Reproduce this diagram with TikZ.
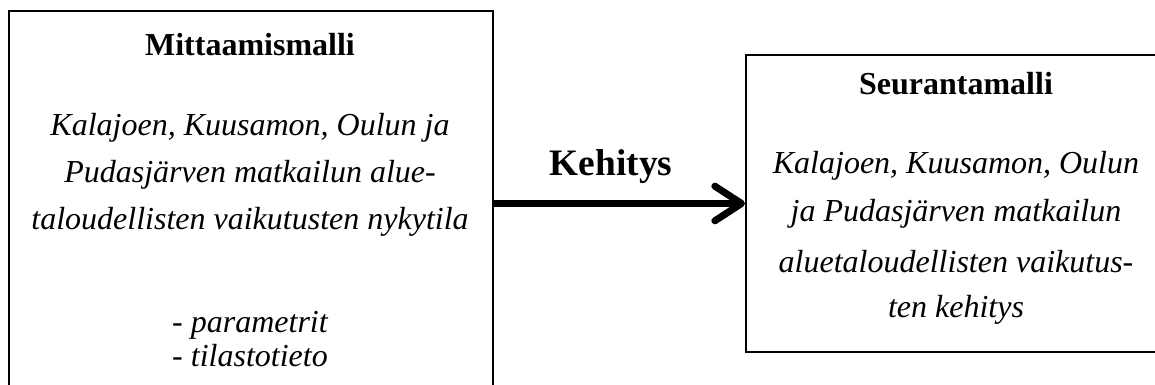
\documentclass[tikz,border=0pt]{standalone}
\usepackage{fontspec}
\setmainfont{Liberation Serif}
\usetikzlibrary{arrows.meta}

\begin{document}
\begin{tikzpicture}[x=0.75pt, y=-0.75pt, font=\fontsize{24}{28}\selectfont,
  box/.style={draw, line width=1.5pt, inner sep=0pt, anchor=north west},
  body/.style={font=\fontsize{24}{28}\selectfont\itshape},
  heading/.style={font=\fontsize{24}{28}\selectfont\bfseries}]
  \useasboundingbox (0,0) rectangle (1155,385);
  \clip (0,0) rectangle (1155,385);

  % the two models
  \node[box, minimum width=363pt, minimum height=315pt] (mitta) at (8,10) {};
  \node[box, minimum width=316.5pt, minimum height=222.75pt] (seur) at (745,54) {};

  \node[heading] (mitta-title) at (250,45) {Mittaamismalli};
  \foreach \t [count=\i] in {{Kalajoen, Kuusamon, Oulun ja},
      {Pudasjärven matkailun alue-},
      {taloudellisten vaikutusten nykytila}} {
    \node[body] (mitta-line\i) at (250,81+47*\i) {\t};
  }
  \node[body] (mitta-par) at (250,325) {- parametrit};
  \node[body] (mitta-stat) at (250,356) {- tilastotieto};

  \node[heading] (seur-title) at (956,84) {Seurantamalli};
  \foreach \t [count=\i] in {{Kalajoen, Kuusamon, Oulun},
      {ja Pudasjärven matkailun},
      {aluetaloudellisten vaikutus-},
      {ten kehitys}} {
    \node[body] (seur-line\i) at (956,118+48*\i) {\t};
  }

  % development
  \draw[line width=5.25pt, -{Straight Barb[length=20pt, width=26pt, round]}]
    (mitta.east |- seur.west) -- (seur.west);
  \node[font=\fontsize{28}{32}\selectfont\bfseries] (kehitys) at (611,167) {Kehitys};
\end{tikzpicture}
\end{document}
